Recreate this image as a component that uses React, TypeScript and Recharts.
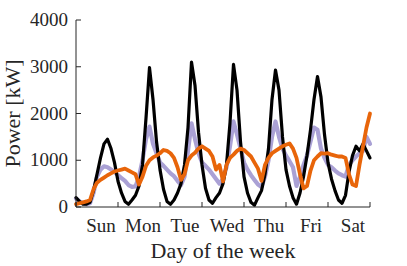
import { Line, LineChart, XAxis, YAxis } from "recharts";

const DAYS = ["Sun", "Mon", "Tue", "Wed", "Thu", "Fri", "Sat"];
const Y_TICKS = [0, 1000, 2000, 3000, 4000];
const STEP_H = 2; // one reading every 2 hours, from Sunday 00:00

// power in kW
const BLACK = [
  200, 120, 60, 60, 100, 350, 700, 1050, 1350, 1450, 1250, 950,
  550, 300, 120, 60, 150, 250, 450, 900, 1900, 2980, 2300, 1400,
  800, 380, 120, 60, 150, 300, 500, 900, 1700, 3100, 2600, 1600,
  900, 400, 150, 80, 200, 300, 500, 900, 1800, 3050, 2500, 1400,
  650, 300, 100, 40, 200, 350, 700, 1250, 2300, 2930, 2500, 1500,
  800, 450, 200, 60, 300, 650, 1100, 1650, 2300, 2790, 2350, 1550,
  950, 600, 350, 150, 80, 250, 750, 1100, 1300, 1200, 1350, 1200,
  1050,
];
const LAVENDER = [
  180, 120, 80, 60, 80, 300, 650, 800, 870, 850, 800, 750,
  680, 620, 560, 470, 430, 440, 650, 1000, 1450, 1720, 1350, 1150,
  950, 880, 800, 720, 660, 560, 470, 650, 1200, 1790, 1450, 1150,
  950, 880, 800, 700, 600, 500, 600, 850, 1300, 1830, 1550, 1250,
  950, 800, 680, 580, 480, 430, 650, 1000, 1500, 1830, 1500, 1250,
  1100, 980, 850, 450, 650, 900, 1100, 1400, 1700, 1650, 1250, 1050,
  900, 850, 780, 720, 680, 650, 900, 1000, 1080, 1150, 1200, 1500,
  1350,
];
const ORANGE = [
  60, 80, 100, 120, 150, 380, 520, 580, 630, 680, 720, 760,
  780, 800, 820, 780, 740, 700, 480, 650, 880, 1000, 1060, 1100,
  1150, 1220, 1200, 1150, 1050, 850, 580, 700, 1000, 1100, 1160, 1250,
  1300, 1250, 1200, 1080, 800, 900, 550, 900, 1050, 1120, 1200, 1250,
  1220, 1150, 1080, 950, 820, 560, 900, 1050, 1150, 1200, 1250, 1300,
  1330, 1360, 1250, 1050, 700, 400, 450, 780, 1000, 1080, 1150, 1140,
  1150, 1120, 1100, 1080, 1080, 1050, 700, 480, 450, 900, 1300, 1700,
  2000,
];

const data = BLACK.map((v, i) => ({
  hour: i * STEP_H,
  black: v,
  lavender: LAVENDER[i],
  orange: ORANGE[i],
}));

const dayEdges = DAYS.map((_, i) => i * 24).concat(DAYS.length * 24);
const dayMids = DAYS.map((_, i) => i * 24 + 12);

const INK = "#262626";
const FONT = "'Liberation Serif', 'Times New Roman', serif";

function BottomTick({ x, y, payload }: any) {
  const h = payload.value;
  if (h % 24 === 0) return <line x1={x} x2={x} y1={y} y2={y - 5} stroke={INK} />;
  return (
    <text x={x + 4} y={y + 25} textAnchor="middle" fontSize={19} fontFamily={FONT} fill={INK}>
      {DAYS[Math.floor(h / 24)]}
    </text>
  );
}

function TopTick({ x, y }: any) {
  return <line x1={x} x2={x} y1={y} y2={y + 5} stroke={INK} />;
}

function LeftTick({ x, y, payload }: any) {
  return (
    <g>
      <line x1={x} x2={x + 5} y1={y} y2={y} stroke={INK} />
      <text x={x - 8} y={y + 6} textAnchor="end" fontSize={19} fontFamily={FONT} fill={INK}>
        {payload.value}
      </text>
    </g>
  );
}

function RightTick({ x, y }: any) {
  return <line x1={x} x2={x - 5} y1={y} y2={y} stroke={INK} />;
}

export default function App() {
  return (
    <div style={{ position: "absolute", left: 0, top: 0, background: "#fff" }}>
      <LineChart width={407} height={266} data={data} margin={{ top: 20, right: 37, bottom: 0, left: 0 }}>
        <XAxis
          xAxisId="b"
          dataKey="hour"
          type="number"
          domain={[0, 168]}
          ticks={[...dayEdges, ...dayMids].sort((a, b) => a - b)}
          interval={0}
          height={59}
          tickSize={0}
          tickMargin={0}
          tickLine={false}
          axisLine={{ stroke: INK }}
          tick={<BottomTick />}
          label={(props: any) => {
            const vb = props.viewBox;
            return (
              <text x={vb.x + vb.width / 2} y={vb.y + 51} textAnchor="middle" fontSize={22} fontFamily={FONT} fill={INK}>
                Day of the week
              </text>
            );
          }}
        />
        <XAxis
          xAxisId="t"
          orientation="top"
          dataKey="hour"
          type="number"
          domain={[0, 168]}
          ticks={dayEdges}
          interval={0}
          height={0}
          tickSize={0}
          tickMargin={0}
          tickLine={false}
          axisLine={{ stroke: INK }}
          tick={<TopTick />}
        />
        <YAxis
          yAxisId="l"
          type="number"
          domain={[0, 4000]}
          ticks={Y_TICKS}
          interval={0}
          width={76}
          tickSize={0}
          tickMargin={0}
          tickLine={false}
          axisLine={{ stroke: INK }}
          tick={<LeftTick />}
          label={(props: any) => {
            const vb = props.viewBox;
            const cy = vb.y + vb.height / 2;
            return (
              <text x={20} y={cy} transform={`rotate(-90, 20, ${cy})`} textAnchor="middle" fontSize={22} fontFamily={FONT} fill={INK}>
                Power [kW]
              </text>
            );
          }}
        />
        <YAxis
          yAxisId="r"
          orientation="right"
          type="number"
          domain={[0, 4000]}
          ticks={Y_TICKS}
          interval={0}
          width={0}
          tickSize={0}
          tickMargin={0}
          tickLine={false}
          axisLine={{ stroke: INK }}
          tick={<RightTick />}
        />
        <Line xAxisId="b" yAxisId="l" dataKey="lavender" stroke="#aaa1d5" strokeWidth={4.2} dot={false} strokeLinejoin="round" strokeLinecap="round" isAnimationActive={false} />
        <Line xAxisId="b" yAxisId="l" dataKey="black" stroke="#000" strokeWidth={3.2} dot={false} strokeLinejoin="round" strokeLinecap="round" isAnimationActive={false} />
        <Line xAxisId="b" yAxisId="l" dataKey="orange" stroke="#e8650a" strokeWidth={3.8} dot={false} strokeLinejoin="round" strokeLinecap="round" isAnimationActive={false} />
      </LineChart>
    </div>
  );
}
